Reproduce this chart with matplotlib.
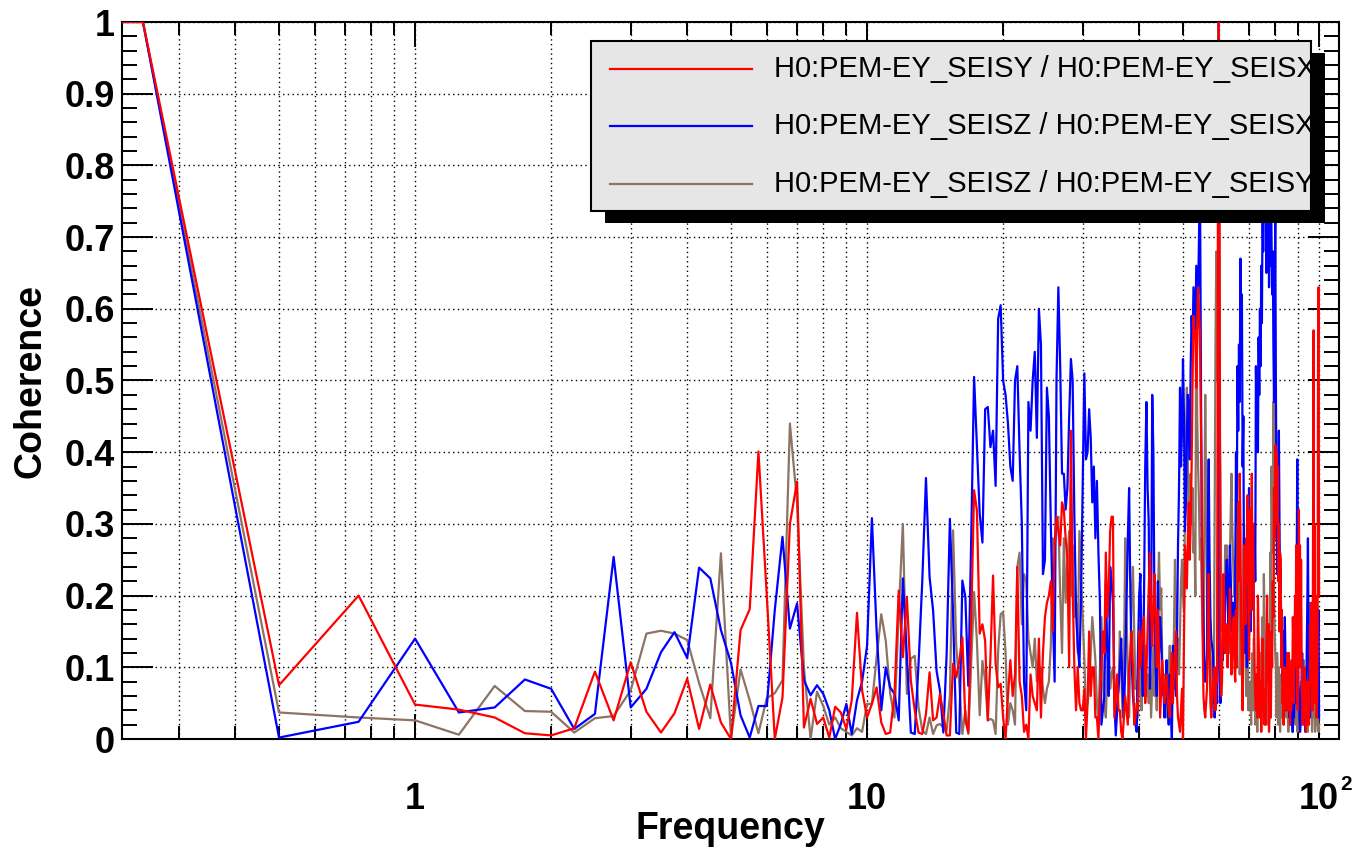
import numpy as np
import matplotlib
matplotlib.use("Agg")
import matplotlib.pyplot as plt
from matplotlib.patches import Rectangle
from matplotlib.lines import Line2D
from matplotlib.ticker import LogLocator, FixedLocator, FixedFormatter, MultipleLocator, NullFormatter

plt.rcParams['font.family'] = ['Liberation Sans', 'DejaVu Sans']

# coherence values, 0.25 Hz bins from 0 to 100 Hz
# 0 .. 10 Hz
red_a = [1, 1, .075, .200, .048, .041, .030, .008, .005, .015, .094, .026, .107, .038, .009, .036, .084, .014, .076, .023,
         .000, .152, .181, .401, .200, .000, .058, .300, .359, .016, .056, .021, .030, .002, .045, .037, .014, .054, .176, .068, .030]
blue_a = [1, 1, .002, .024, .140, .037, .044, .083, .070, .014, .035, .254, .044, .070, .121, .149, .113, .239, .224, .152,
          .106, .033, .002, .046, .046, .180, .282, .154, .189, .082, .061, .075, .063, .040, .000, .021, .049, .007, .054, .080, .130]
brown_a = [1, 1, .037, .030, .026, .006, .074, .039, .038, .009, .029, .032, .068, .147, .151, .147, .138, .078, .029, .259,
           .001, .097, .054, .008, .057, .064, .082, .440, .330, .100, .000, .066, .046, .020, .030, .015, .010, .005, .015, .010, .049]

# 10.25 .. 20 Hz
red_b = [.049, .072, .023, .007, .009, .063, .207, .114, .198, .081,
         .040, .009, .007, .035, .093, .026, .030, .063, .035, .005,
         .005, .105, .086, .109, .142, .026, .009, .165, .347, .319,
         .147, .160, .137, .026, .114, .228, .105, .072, .077, .030]
blue_b = [.308, .150, .040, .100, .072, .063, .026, .224, .114, .009,
          .007, .105, .221, .364, .226, .179, .095, .067, .009, .119,
          .307, .174, .009, .007, .221, .198, .074, .281, .505, .407,
          .314, .274, .460, .463, .407, .430, .353, .586, .605, .500]
brown_b = [.049, .114, .174, .137, .063, .030, .174, .300, .063, .112,
           .116, .044, .012, .007, .030, .007, .019, .021, .016, .012,
           .060, .291, .130, .077, .007, .040, .007, .105, .205, .137,
           .033, .109, .081, .026, .028, .026, .007, .123, .174, .177]

# 20.25 .. 40 Hz
red_c = [.00, .06, .11, .06, .09, .24, .08, .06, .01, .02,
         .00, .09, .06, .05, .04, .14, .03, .12, .17, .19,
         .20, .22, .15, .27, .31, .29, .27, .33, .32, .28,
         .25, .10, .43, .21, .10, .04, .10, .05, .04, .04,
         .07, .00, .05, .15, .06, .10, .10, .03, .03, .00,
         .06, .10, .15, .12, .26, .17, .21, .29, .31, .31,
         .03, .06, .09, .04, .04, .01, .00, .03, .06, .04,
         .02, .10, .12, .15, .10, .02, .03, .05, .04, .15]
blue_c = [.48, .44, .38, .36, .50, .52, .40, .30, .08, .04,
          .47, .43, .50, .54, .42, .60, .55, .23, .25, .49,
          .45, .30, .18, .08, .50, .63, .52, .37, .37, .32,
          .35, .45, .53, .50, .31, .18, .13, .10, .20, .36,
          .51, .39, .40, .46, .42, .33, .38, .28, .36, .26,
          .19, .02, .04, .06, .22, .12, .06, .24, .22, .19,
          .06, .005, .04, .07, .10, .14, .07, .03, .10, .19,
          .28, .35, .20, .11, .06, .04, .02, .01, .12, .20]
brown_c = [.12, .02, .05, .04, .02, .24, .26, .16, .23, .22,
           .14, .12, .10, .14, .08, .09, .10, .07, .05, .07,
           .08, .13, .28, .27, .30, .31, .20, .12, .28, .19,
           .25, .29, .20, .27, .17, .19, .12, .29, .22, .17,
           .11, .04, .05, .07, .12, .17, .14, .11, .05, .02,
           .10, .17, .08, .05, .03, .09, .12, .07, .09, .10,
           .06, .02, .05, .07, .15, .10, .03, .08, .28, .17,
           .10, .03, .12, .20, .24, .15, .07, .08, .03, .16]

# 40.25 .. 65 Hz
red_d = [.10, .13, .16, .17, .05, .09, .15, .21,
         .26, .18, .13, .19, .23, .16, .10, .18,
         .12, .03, .07, .11, .08, .05, .07, .09,
         .06, .04, .03, .08, .12, .05, .09, .12,
         .15, .06, .03, .02, .01, .04, .07, .00,
         .14, .27, .24, .21, .28, .33, .25, .30,
         .38, .50, .59, .56, .57, .49, .55, .63,
         .60, .57, .45, .37, .15, .06, .04, .03,
         .05, .07, .15, .23, .12, .05, .03, .05,
         .08, .06, .10, .04, .08, .08, .78, 1.00,
         .72, .10, .06, .08, .15, .23, .16, .12,
         .14, .16, .10, .13, .17, .21, .14, .09, .12, .15, .17, .10]
blue_d = [.23, .12, .06, .20, .38, .47, .35, .30,
          .07, .15, .48, .40, .17, .10, .06, .22,
          .12, .17, .14, .09, .07, .03, .06, .11,
          .05, .02, .09, .04, .00, .13, .07, .10,
          .06, .14, .27, .35, .49, .38, .43, .53,
          .45, .29, .33, .42, .48, .45, .39, .52,
          .59, .55, .63, .60, .57, .66, .64, .62,
          .70, .80, .55, .30, .22, .17, .10, .08,
          .09, .12, .30, .39, .25, .17, .14, .13,
          .12, .08, .03, .06, .10, .05, .30, 1.00,
          .10, .05, .09, .13, .11, .17, .12, .20,
          .22, .25, .20, .16, .21, .27, .23, .18, .15, .19, .16, .12]
brown_d = [.07, .04, .10, .08, .13, .06, .09, .05,
           .10, .03, .08, .13, .06, .11, .04, .20,
           .26, .18, .21, .10, .06, .09, .03, .07,
           .05, .10, .13, .08, .04, .07, .15, .25,
           .18, .10, .14, .09, .15, .22, .25, .20,
           .18, .30, .42, .49, .39, .28, .33, .37,
           .30, .35, .26, .29, .20, .65, .45, .38,
           .33, .25, .28, .21, .16, .12, .30, .48,
           .35, .19, .12, .17, .21, .14, .06, .09,
           .11, .05, .30, .55, .68, .50, .62, .70,
           .45, .37, .22, .15, .19, .12, .20, .27,
           .24, .27, .22, .19, .12, .25, .31, .37, .30, .26, .22, .20]

# 65.25 .. 100 Hz
red_e = [.08, .18, .10, .23, .33, .22, .37, .30, .15, .10, .04, .12, .27, .20, .16, .28, .22, .34, .20, .11,
         .22, .32, .18, .37, .24, .30, .19, .10, .06, .04, .09, .03, .20, .14, .10, .03, .08, .01, .05, .14,
         .09, .05, .02, .07, .02, .14, .20, .08, .16, .01, .05, .12, .03, .15, .10, .22, .17, .35, .28, .41,
         .30, .40, .32, .38, .22, .30, .15, .26, .25, .10, .18, .05, .07, .02, .10, .08, .04, .06, .09, .11,
         .12, .04, .12, .07, .02, .09, .04, .11, .06, .17, .13, .05, .14, .20, .10, .27, .12, .06, .04, .15,
         .32, .18, .27, .10, .25, .12, .06, .02, .06, .08, .03, .10, .05, .01, .06, .08, .02, .08, .03, .02,
         .05, .10, .16, .08, .19, .10, .04, .30, .57, .12, .30, .05, .20, .17, .03, .05, .12, .55, .63, .20]
blue_e = [.22, .40, .30, .52, .43, .55, .47, .67, .58, .62, .38, .45, .20, .27, .12, .18, .10, .22, .14, .35,
          .25, .15, .24, .20, .25, .18, .23, .30, .22, .52, .45, .49, .40, .56, .48, .60, .52, .66, .58, .75,
          .68, .85, .74, .80, .73, .65, .80, .70, .78, .63, .72, .66, .78, .70, .62, .68, .55, .47, .60, .72,
          .50, .35, .23, .33, .28, .43, .30, .20, .24, .12, .17, .08, .12, .15, .06, .17, .12, .04, .09, .05,
          .08, .04, .06, .03, .07, .04, .02, .05, .02, .01, .04, .03, .06, .09, .05, .14, .25, .39, .20, .08,
          .06, .03, .01, .02, .05, .08, .12, .07, .03, .05, .02, .04, .01, .02, .08, .14, .20, .28, .15, .06,
          .04, .03, .05, .09, .13, .16, .11, .07, .05, .06, .09, .12, .08, .10, .12, .06, .10, .15, .18, .03]
brown_e = [.25, .10, .13, .31, .22, .26, .09, .15, .09, .14, .05, .26, .30, .12, .16, .06, .11, .14, .04, .07,
           .05, .08, .02, .10, .12, .04, .14, .07, .02, .04, .06, .01, .07, .09, .03, .08, .12, .03, .14, .17,
           .08, .23, .15, .08, .04, .06, .10, .02, .12, .16, .07, .26, .15, .38, .30, .26, .47, .20, .15, .12,
           .10, .03, .12, .09, .02, .10, .06, .01, .07, .09, .03, .07, .10, .02, .09, .07, .10, .12, .03, .06,
           .04, .01, .03, .04, .06, .02, .09, .07, .01, .09, .11, .03, .10, .14, .02, .09, .07, .01, .06, .02,
           .05, .07, .01, .06, .08, .02, .05, .07, .09, .11, .02, .06, .07, .01, .03, .04, .05, .01, .06, .09,
           .14, .19, .05, .10, .07, .01, .04, .06, .03, .04, .05, .01, .02, .04, .02, .03, .02, .03, .01, .02]

red = red_a + red_b + red_c + red_d + red_e
blue = blue_a + blue_b + blue_c + blue_d + blue_e
brown = brown_a + brown_b + brown_c + brown_d + brown_e
freq = np.arange(0, 100.25, 0.25)
assert len(red) == len(blue) == len(brown) == len(freq), (len(red), len(blue), len(brown), len(freq))

labels = ["H0:PEM-EY_SEISY / H0:PEM-EY_SEISX",
          "H0:PEM-EY_SEISZ / H0:PEM-EY_SEISX",
          "H0:PEM-EY_SEISZ / H0:PEM-EY_SEISY"]
colors = ["#ff0000", "#0000ff", "#8c7363"]

W, H = 1364, 855
fig = plt.figure(figsize=(W / 100, H / 100), dpi=100)
# axes box in pixels: left 122, right 1339, top 22, bottom 739
ax = fig.add_axes([122 / W, 1 - 739 / H, (1339 - 122) / W, (739 - 22) / H])

ax.plot(freq, brown, color=colors[2], lw=1.6, zorder=3)
ax.plot(freq, blue, color=colors[1], lw=1.6, zorder=4)
ax.plot(freq, red, color=colors[0], lw=1.6, zorder=5)

ax.set_xscale('log')
ax.set_xlim(0.2247, 110.7)
ax.set_ylim(0, 1)

ax.xaxis.set_major_locator(FixedLocator([1, 10, 100]))
ax.xaxis.set_major_formatter(FixedFormatter(['1', '10', '10']))
ax.xaxis.set_minor_locator(LogLocator(base=10, subs=np.arange(2, 10)))
ax.xaxis.set_minor_formatter(NullFormatter())
ax.yaxis.set_major_locator(MultipleLocator(0.1))
ax.yaxis.set_minor_locator(MultipleLocator(0.02))
ax.yaxis.set_major_formatter(plt.FuncFormatter(lambda v, p: '%g' % round(v, 1)))

ax.tick_params(which='both', direction='in', top=True, right=True, width=1.4, colors='black')
ax.tick_params(axis='x', which='major', length=18, pad=31, labelsize=26)
ax.tick_params(axis='x', which='minor', length=9.5)
ax.tick_params(axis='y', which='major', length=22, pad=5, labelsize=26)
ax.tick_params(axis='y', which='minor', length=11)
for lab in ax.get_xticklabels() + ax.get_yticklabels():
    lab.set_fontweight('bold')

ax.grid(True, which='both', axis='x', color='black', lw=1.0, ls=(0, (1, 2.4)))
ax.grid(True, which='major', axis='y', color='black', lw=1.0, ls=(0, (1, 2.4)))
for sp in ax.spines.values():
    sp.set_linewidth(1.5)

# exponent of the 10^2 label
ax.annotate('2', xy=(100, 0), xycoords=('data', 'axes fraction'), xytext=(15, -26),
            textcoords='offset points', fontsize=15, fontweight='bold', ha='left', va='top')

ax.set_xlabel('Frequency', fontsize=27, fontweight='bold')
ax.xaxis.set_label_coords(0.5, -(811 - 739) / 717)
ax.set_ylabel('Coherence', fontsize=27, fontweight='bold', labelpad=12)

# legend box with shadow, drawn by hand so the long text is cut at the frame
def fx(px):
    return px / W

def fy(py):
    return 1 - py / H

bx0, bx1, by0, by1 = 591, 1311, 41, 211
shadow = Rectangle((fx(bx0 + 14), fy(by1 + 12)), fx(bx1 - bx0), (by1 - by0) / H,
                   transform=fig.transFigure, facecolor='black', edgecolor='none', zorder=10)
box = Rectangle((fx(bx0), fy(by1)), fx(bx1 - bx0), (by1 - by0) / H,
                transform=fig.transFigure, facecolor='#e6e6e6', edgecolor='black', lw=1.5, zorder=11)
fig.add_artist(shadow)
fig.add_artist(box)
for i, (lab, c) in enumerate(zip(labels, colors)):
    yy = fy(69 + 57.5 * i)
    fig.add_artist(Line2D([fx(610), fx(752)], [yy, yy], transform=fig.transFigure, color=c, lw=1.6, zorder=12))
    t = fig.text(fx(774), yy, lab, fontsize=21, va='center', ha='left', zorder=12)
    t.set_clip_path(box)

fig.savefig('out.png', dpi=100)
